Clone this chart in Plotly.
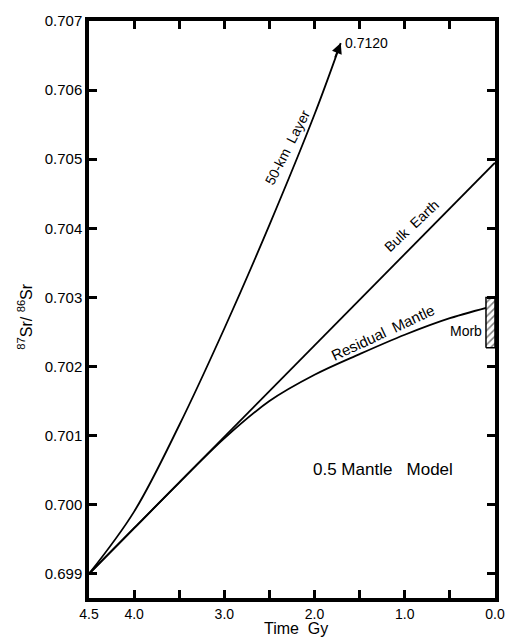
import plotly.graph_objects as go

# Data (time in Gy, 87Sr/86Sr)
bulk_t = [4.5, 0.0]
bulk_v = [0.69900, 0.70495]

resid_t = [4.5, 4.0, 3.5, 3.0, 2.5, 2.0, 1.5, 1.0, 0.5, 0.0]
resid_v = [0.69900, 0.69966, 0.70032, 0.70096, 0.70150, 0.70188, 0.70218, 0.70246, 0.70270, 0.70288]

layer_t = [4.5, 4.0, 3.5, 3.0, 2.5, 2.0, 1.71]
layer_v = [0.69900, 0.69990, 0.70115, 0.70255, 0.70405, 0.70565, 0.70668]

morb_t = [0.1, 0.0, 0.0, 0.1, 0.1]
morb_v = [0.70227, 0.70227, 0.70300, 0.70300, 0.70227]

x_tickvals = [4.5, 4.0, 3.5, 3.0, 2.5, 2.0, 1.5, 1.0, 0.5, 0.0]
x_ticktext = ["4.5", "4.0", "", "3.0", "", "2.0", "", "1.0", "", "0.0"]
y_tickvals = [0.699, 0.700, 0.701, 0.702, 0.703, 0.704, 0.705, 0.706, 0.707]
y_ticktext = ["0.699", "0.700", "0.701", "0.702", "0.703", "0.704", "0.705", "0.706", "0.707"]

FONT = "Liberation Sans"

fig = go.Figure()
fig.add_trace(go.Scatter(x=bulk_t, y=bulk_v, mode="lines", line=dict(color="black", width=1.8), hoverinfo="skip"))
fig.add_trace(go.Scatter(x=resid_t, y=resid_v, mode="lines", line=dict(color="black", width=1.8, shape="spline"), hoverinfo="skip"))
fig.add_trace(go.Scatter(x=layer_t, y=layer_v, mode="lines", line=dict(color="black", width=1.8, shape="spline"), hoverinfo="skip"))
fig.add_trace(go.Scatter(x=morb_t, y=morb_v, mode="lines", fill="toself",
                         fillcolor="white",
                         fillpattern=dict(shape="/", fgcolor="black", bgcolor="white", size=5, solidity=0.3),
                         line=dict(color="black", width=1.5), hoverinfo="skip"))

annotations = [
    # arrow head at end of 50-km layer curve
    dict(x=layer_t[-1], y=layer_v[-1], ax=1.78, ay=0.70645, xref="x", yref="y", axref="x", ayref="y",
         text="", showarrow=True, arrowhead=2, arrowsize=1.3, arrowwidth=1.6, arrowcolor="black"),
    dict(x=1.68, y=0.70668, text="0.7120", showarrow=False, xanchor="left", yanchor="middle",
         font=dict(family=FONT, size=14, color="black")),
    dict(x=2.30, y=0.70518, text="50-km\u00a0\u00a0Layer", showarrow=False, textangle=-63,
         font=dict(family=FONT, size=14, color="black")),
    dict(x=0.93, y=0.70404, text="Bulk\u00a0\u00a0Earth", showarrow=False, textangle=-43,
         font=dict(family=FONT, size=14, color="black")),
    dict(x=1.243, y=0.70249, text="Residual\u00a0\u00a0Mantle", showarrow=False, textangle=-25,
         font=dict(family=FONT, size=15, color="black")),
    dict(x=0.317, y=0.702521, text="Morb", showarrow=False,
         font=dict(family=FONT, size=14, color="black")),
    dict(x=1.243, y=0.700515, text="0.5 Mantle\u00a0\u00a0\u00a0Model", showarrow=False,
         font=dict(family=FONT, size=17, color="black")),
    dict(x=-0.157, y=0.488, xref="paper", yref="paper", xanchor="center", yanchor="middle",
         text="<sup>87</sup>Sr/ <sup>86</sup>Sr",
         showarrow=False, textangle=-90, font=dict(family=FONT, size=16, color="black")),
    dict(x=0.51, y=-0.052, xref="paper", yref="paper", xanchor="center", yanchor="middle",
         text="Time\u00a0\u00a0Gy",
         showarrow=False, font=dict(family=FONT, size=16, color="black")),
]

fig.update_layout(
    width=517, height=637,
    margin=dict(l=89, r=15, t=20, b=39),
    plot_bgcolor="white", paper_bgcolor="white",
    showlegend=False,
    annotations=annotations,
    xaxis=dict(range=[4.5, 0.0], tickvals=x_tickvals, ticktext=x_ticktext,
               ticks="inside", ticklen=8, tickwidth=2.5, tickcolor="black",
               showline=True, linewidth=3.5, linecolor="black", mirror="ticks",
               showgrid=False, zeroline=False,
               tickfont=dict(family=FONT, size=14, color="black")),
    yaxis=dict(range=[0.69865, 0.707], tickvals=y_tickvals, ticktext=y_ticktext,
               ticks="inside", ticklen=8, tickwidth=2.5, tickcolor="black",
               showline=True, linewidth=3.5, linecolor="black", mirror="ticks",
               showgrid=False, zeroline=False,
               tickfont=dict(family=FONT, size=15, color="black")),
)

fig.write_html("out.html", config={"displayModeBar": False},
               post_script="document.body.style.margin='0px';")
